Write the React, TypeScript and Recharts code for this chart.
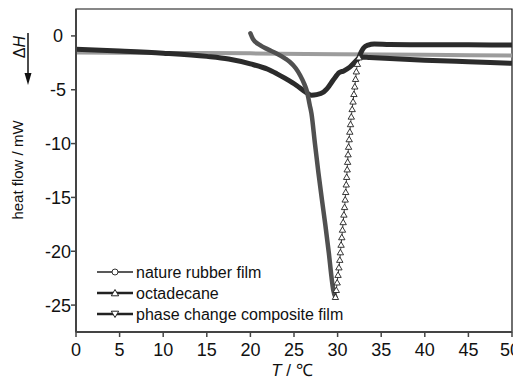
import { LineChart, Line, XAxis, YAxis, Legend, Label, ReferenceArea } from "recharts"

// DSC heating curves, heat flow (mW) vs temperature (°C)
const xTicks = [0, 5, 10, 15, 20, 25, 30, 35, 40, 45, 50]
const yTicks = [0, -5, -10, -15, -20, -25]
const seriesNames = ["nature rubber film", "octadecane", "phase change composite film"]

const rubberT = [0, 10, 20, 30, 40, 50]
const rubberHF = [-1.55, -1.58, -1.62, -1.7, -1.76, -1.82]

const compositeT = [0, 5, 10, 15, 17.5, 20, 22, 23, 24, 25.3, 26.3, 27, 27.6, 28.4, 28.8, 29.5, 30.2, 30.7, 31.4, 32.2, 32.6, 33.7, 36, 40, 45, 50]
const compositeHF = [-1.24, -1.4, -1.6, -1.9, -2.15, -2.6, -3.1, -3.5, -3.95, -4.6, -5.2, -5.5, -5.45, -5.2, -4.9, -4.1, -3.4, -3.25, -2.9, -2.25, -1.95, -2.0, -2.1, -2.25, -2.4, -2.55]

const octadecaneT = [
  20, 20.3, 21.1, 22, 23, 24, 24.5, 25.2, 25.7, 26.2, 26.5, 26.8, 27.0, 27.4, 27.8, 28.2, 28.6, 29.0, 29.3, 29.5, 29.75,
  29.85, 29.95, 30.05, 30.15, 30.25, 30.32, 30.4, 30.48, 30.56, 30.64, 30.72, 30.8, 30.87, 30.93, 30.99, 31.04, 31.1,
  31.15, 31.2, 31.26, 31.33, 31.4, 31.48, 31.57, 31.67, 31.77, 31.87, 31.97, 32.06, 32.15, 32.27, 32.45,
  32.7, 33.0, 33.5, 34.2, 36, 40, 45, 50,
]
const octadecaneHF = [
  0.25, -0.3, -0.86, -1.25, -1.63, -2.1, -2.4, -3.0, -3.65, -4.5, -5.2, -6.4, -7.2, -10.0, -12.7, -15.2, -17.6, -20.2, -22.4, -23.6, -24.25,
  -23.6, -22.9, -22.2, -21.5, -20.8, -20.1, -19.4, -18.7, -18.0, -17.3, -16.6, -15.9, -15.2, -14.5, -13.8, -13.1, -12.4,
  -11.7, -11.0, -10.3, -9.6, -8.9, -8.2, -7.5, -6.8, -6.1, -5.4, -4.7, -4.0, -3.3, -2.6, -2.0,
  -1.5, -1.1, -0.85, -0.75, -0.8, -0.82, -0.83, -0.85,
]

const zip = (t: number[], hf: number[]) => t.map((x, i) => ({ t: x, hf: hf[i] }))

const rubber = zip(rubberT, rubberHF)
const composite = zip(compositeT, compositeHF)
const octadecane = zip(octadecaneT, octadecaneHF)

// melting part, steep recovery (drawn with markers), and the flat tail
const minIdx = octadecaneHF.indexOf(Math.min(...octadecaneHF))
const topIdx = octadecaneHF.findIndex((v, i) => i > minIdx && v > -2.1)
const octaMelt = octadecane.slice(0, minIdx + 1)
const octaRise = octadecane.slice(minIdx, topIdx + 1)
const octaTail = octadecane.slice(topIdx)

const FONT = '"Liberation Sans", Arial, sans-serif'

function XTick(props: any) {
  const { x, y, payload } = props
  return (
    <text x={x} y={y} dy={17} textAnchor="middle" fontSize={18} fontFamily={FONT} fill="#111">
      {payload.value}
    </text>
  )
}

function YTick(props: any) {
  const { x, y, payload } = props
  return (
    <text x={x - 11} y={y} dy="0.36em" textAnchor="middle" fontSize={18} fontFamily={FONT} fill="#111">
      {payload.value}
    </text>
  )
}

function TriDot(props: any) {
  const { cx, cy, index } = props
  if (cx == null || cy == null) return <g key={`tri-${index}`} />
  return (
    <polygon
      key={`tri-${index}`}
      points={`${cx},${cy - 3} ${cx - 3.2},${cy + 2.5} ${cx + 3.2},${cy + 2.5}`}
      fill="#fff"
      stroke="#222"
      strokeWidth={0.9}
    />
  )
}

function LegendBox() {
  const marks = ["circle", "up", "down"]
  return (
    <svg width={270} height={66} style={{ display: "block" }}>
      {seriesNames.map((name, i) => {
        const cy = 10 + i * 21
        return (
          <g key={name}>
            <line x1={0} x2={36} y1={cy} y2={cy} stroke="#222" strokeWidth={i === 0 ? 1.6 : 2.4} />
            {marks[i] === "circle" && <circle cx={18} cy={cy} r={3} fill="#fff" stroke="#333" strokeWidth={1} />}
            {marks[i] === "up" && (
              <polygon points={`18,${cy - 3.5} 14.3,${cy + 2.8} 21.7,${cy + 2.8}`} fill="#fff" stroke="#222" strokeWidth={1} />
            )}
            {marks[i] === "down" && (
              <polygon points={`18,${cy + 3.5} 14.3,${cy - 2.8} 21.7,${cy - 2.8}`} fill="#fff" stroke="#222" strokeWidth={1} />
            )}
            <text x={39} y={cy} dy="0.36em" fontSize={16} fontFamily={FONT} fill="#111">
              {name}
            </text>
          </g>
        )
      })}
    </svg>
  )
}

export default function App() {
  return (
    <div style={{ fontFamily: FONT }}>
      <LineChart width={510} height={372} margin={{ top: 1, right: 6, bottom: 0, left: 0 }}>
        <ReferenceArea x1={0} x2={50} y1={-27.5} y2={2.5} fill="none" stroke="#111" strokeWidth={1.2} />
        <XAxis
          type="number"
          dataKey="t"
          domain={[0, 50]}
          ticks={xTicks}
          height={48}
          allowDataOverflow
          tick={<XTick />}
          tickSize={5}
          tickMargin={2}
          axisLine={{ stroke: "#444", strokeWidth: 2 }}
          tickLine={{ stroke: "#444", strokeWidth: 1.5 }}
        >
          <Label
            content={() => (
              <text x={284} y={368} textAnchor="middle" fontSize={17} fontFamily={FONT} fill="#111">
                <tspan fontStyle="italic">T</tspan> / ℃
              </text>
            )}
          />
        </XAxis>
        <YAxis
          type="number"
          domain={[-27.5, 2.5]}
          ticks={yTicks}
          width={68}
          allowDataOverflow
          tick={<YTick />}
          tickSize={5}
          tickMargin={2}
          axisLine={{ stroke: "#444", strokeWidth: 2 }}
          tickLine={{ stroke: "#444", strokeWidth: 1.5 }}
        >
          <Label
            content={() => (
              <g>
                <text
                  x={10}
                  y={162}
                  transform="rotate(-90, 10, 162)"
                  textAnchor="middle"
                  dy="0.36em"
                  fontSize={15}
                  fontFamily={FONT}
                  fill="#111"
                >
                  heat flow / mW
                </text>
                <text
                  x={11}
                  y={39}
                  transform="rotate(-90, 11, 39)"
                  textAnchor="middle"
                  dy="0.36em"
                  fontSize={16}
                  fontFamily={FONT}
                  fill="#111"
                >
                  Δ<tspan fontStyle="italic">H</tspan>
                </text>
                <line x1={20} x2={20} y1={25} y2={68} stroke="#111" strokeWidth={1.5} />
                <polygon points="16.5,65 23.5,65 20,77" fill="#111" />
              </g>
            )}
          />
        </YAxis>
        <Legend
          layout="horizontal"
          verticalAlign="middle"
          align="center"
          content={() => <LegendBox />}
          wrapperStyle={{ position: "absolute", left: 89, top: 254, width: 270, height: 66 }}
        />
        <Line data={rubber} dataKey="hf" type="monotone" stroke="#9c9c9c" strokeWidth={4} dot={false} isAnimationActive={false} />
        <Line data={composite} dataKey="hf" type="monotone" stroke="#2b2b2b" strokeWidth={5} dot={false} isAnimationActive={false} />
        <Line
          data={octaMelt}
          dataKey="hf"
          type="monotone"
          stroke="#505050"
          strokeWidth={4.5}
          strokeLinecap="round"
          dot={false}
          isAnimationActive={false}
        />
        <Line data={octaTail} dataKey="hf" type="monotone" stroke="#2b2b2b" strokeWidth={5} dot={false} isAnimationActive={false} />
        <Line
          data={octaRise}
          dataKey="hf"
          type="monotone"
          stroke="#333"
          strokeWidth={1}
          dot={(p: any) => <TriDot {...p} key={`tri-${p.index}`} />}
          isAnimationActive={false}
        />
      </LineChart>
    </div>
  )
}
